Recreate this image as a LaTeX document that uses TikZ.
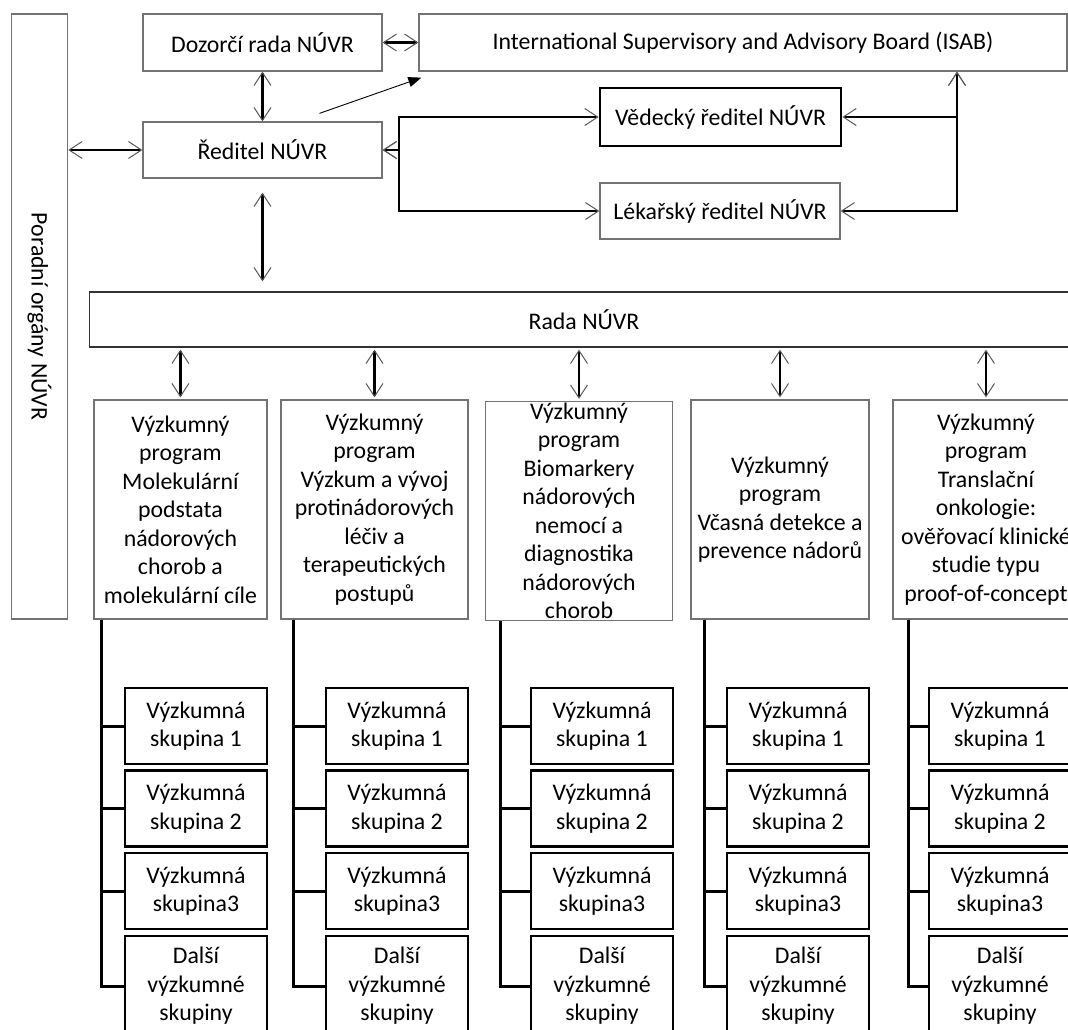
\documentclass[tikz,border=0pt]{standalone}
\usepackage{fontspec}
\setmainfont{Carlito}
\usetikzlibrary{arrows.meta}
\begin{document}
\begin{tikzpicture}
[
    x=1pt, y=-1pt,
    font=\fontsize{23.8}{28.5}\selectfont,
    orgbox/.style={draw=black!55, line width=1.3pt, align=center, inner sep=1pt},
    boldbox/.style={orgbox, draw=black, line width=2.7pt},
    prog/.style={orgbox, minimum height=219pt, inner ysep=0pt},
    grp/.style={boldbox, minimum width=142pt, minimum height=76pt},
    barb/.tip={Straight Barb[length=13pt,width=17pt,line width=1pt,color=black!65]},
    dbl/.style={line width=2.2pt, barb-barb},
    tree/.style={line width=3pt},
]
\useasboundingbox (0,0) rectangle (1068,1030);
\fill[white] (0,0) rectangle (1068,1030);
\clip (0,0) rectangle (1068,1030);
\node[orgbox, rotate=-90, minimum width=605pt, minimum height=56pt] (por) at (39.6,316.5) {Poradní orgány NÚVR};
\node[orgbox, minimum width=239pt, minimum height=57pt] (doz) at (262.5,42.5) {Dozorčí rada NÚVR};
\node[orgbox, minimum width=648pt, minimum height=57pt] (isab) at (743,42.5) {International Supervisory and Advisory Board (ISAB)};
\node[orgbox, minimum width=239pt, minimum height=56pt] (red) at (262.5,150) {Ředitel NÚVR};
\node[boldbox, minimum width=241pt, minimum height=58pt] (ved) at (720.5,117) {Vědecký ředitel NÚVR};
\node[orgbox, minimum width=240pt, minimum height=56pt] (lek) at (720,211) {Lékařský ředitel NÚVR};
\node[orgbox, draw=black!80, minimum width=989pt, minimum height=55pt] (rada) at (584,319.5) {Rada NÚVR};
\node[prog, minimum width=173pt] (p1) at (180.4,509.5) {Výzkumný\\program\\Molekulární\\podstata\\nádorových\\chorob a\\molekulární cíle};
\node[prog, minimum width=187pt] (p2) at (374.5,509.5) {Výzkumný\\program\\Výzkum a vývoj\\protinádorových\\léčiv a\\terapeutických\\postupů};
\node[prog, minimum width=187pt] (p3) at (579,511) {Výzkumný\\program\\Biomarkery\\nádorových\\nemocí a\\diagnostika\\nádorových\\chorob};
\node[prog, minimum width=178pt] (p4) at (780,509.5) {Výzkumný\\program\\Včasná detekce a\\prevence nádorů};
\node[prog, minimum width=186pt] (p5) at (986,509.5) {Výzkumný\\program\\Translační\\onkologie:\\ověřovací klinické\\studie typu\\proof-of-concept};
\draw[dbl] (doz) -- (isab);
\draw[dbl] (doz) -- (red);
\draw[line width=0.9pt, -{Triangle[length=13pt,width=10pt]}] ([shift={(57,-8)}]red.north) -- ([shift={(3,6)}]isab.south west);
\draw[dbl] (red.west -| por.north) -- (red.west);
\draw[dbl] (red.east) -- ++(16,0) |- (ved.west);
\draw[dbl] (red.east) -- ++(16,0) |- (lek.west);
\draw[dbl] (ved.east) -| (isab.south -| 957,0);
\draw[dbl] (lek.east) -| (isab.south -| 957,0);
\draw[dbl, shorten <=14pt, shorten >=10pt] (red.south) -- (red.south |- rada.north);
\foreach \c in {1,...,5}
    \draw[dbl, shorten <=2pt, shorten >=2pt] (p\c.north |- rada.south) -- (p\c.north);
\foreach \c/\x/\t in {1/196/101, 2/397/293, 3/602/500, 4/798/704, 5/1000/908}
{
    \node[grp] (g\c1) at (\x,726) {Výzkumná\\skupina 1};
    \node[grp] (g\c2) at (\x,808.5) {Výzkumná\\skupina 2};
    \node[grp] (g\c3) at (\x,891) {Výzkumná\\skupina3};
    \node[grp, minimum height=100pt] (g\c4) at (\x,986) {Další\\výzkumné\\skupiny};
    \foreach \r in {1,...,4}
        \draw[tree] (p\c.south -| \t,0) |- (g\c\r.west);
}
\end{tikzpicture}
\end{document}
